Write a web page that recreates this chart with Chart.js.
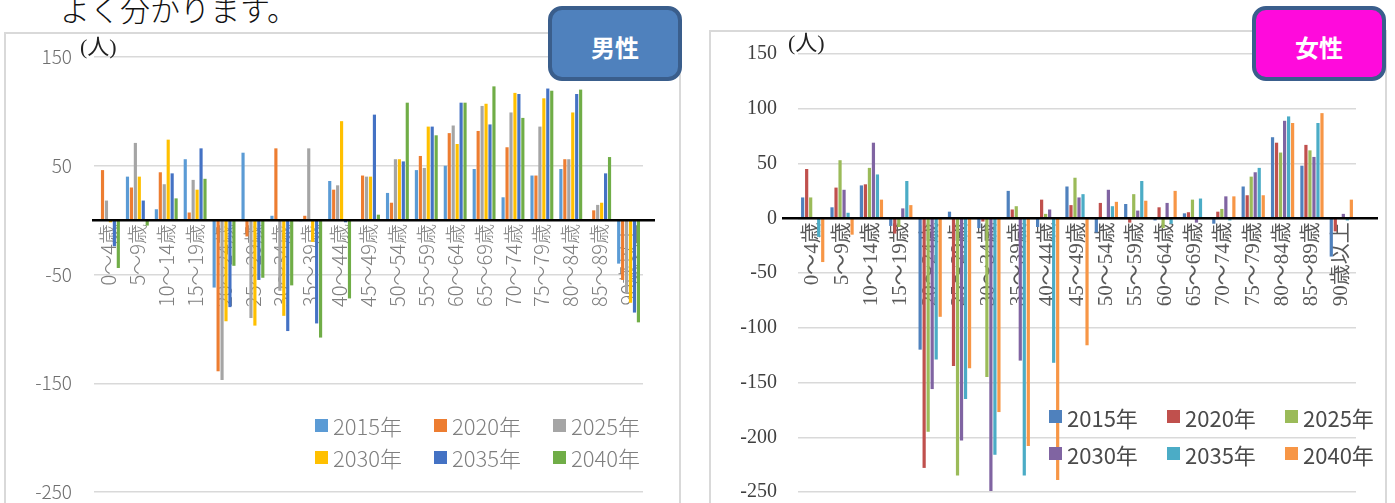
<!DOCTYPE html>
<html lang="ja">
<head>
<meta charset="utf-8">
<script src="https://cdn.jsdelivr.net/npm/chart.js@4.4.1/dist/chart.umd.min.js"></script>
<style>
  html, body { margin: 0; padding: 0; background: #fff; }
  body { width: 1395px; height: 503px; position: relative; overflow: hidden; font-family: 'Noto Sans CJK JP', sans-serif; }
  .lead { position: absolute; left: 60px; top: -7px; font-size: 30px; line-height: 30px; font-weight: 300; color: #111; white-space: nowrap; }
  .frame { position: absolute; border: 2px solid #d9d9d9; box-sizing: border-box; }
  .plot { position: absolute; }
  .unit { position: absolute; font-family: 'Liberation Serif', 'Noto Sans CJK JP', serif; font-size: 22px; line-height: 22px; color: #222; }
  .tag { position: absolute; width: 134px; height: 75px; box-sizing: border-box; border: 4px solid #3a5e8c; border-radius: 14px;
         color: #fff; font-weight: bold; font-size: 24px; display: flex; align-items: center; justify-content: center; padding-top: 6px; }
  .legend { position: absolute; display: grid; grid-template-columns: repeat(3, 118px); }
  .legend .item { display: flex; align-items: center; white-space: nowrap; }
  .legend i { display: inline-block; width: 13px; height: 13px; margin-right: 5px; }
  #legendMale { left: 315px; top: 409px; grid-auto-rows: 32px; font-size: 22px; font-weight: 300; color: #7f7f7f; grid-template-columns: repeat(3, 119px); }
  #legendFemale { left: 1049px; top: 398px; grid-auto-rows: 37px; font-size: 22px; color: #4a4a4a; }
</style>
</head>
<body>
<div class="lead">よく分かります。</div>

<div class="frame" style="left:4px; top:32px; width:677px; height:490px;"></div>
<div class="frame" style="left:709px; top:30px; width:678px; height:490px;"></div>

<canvas id="maleChart" class="plot" style="left:5px; top:33px;" width="675" height="470"></canvas>
<canvas id="femaleChart" class="plot" style="left:708px; top:30px;" width="680" height="473"></canvas>

<div class="unit" style="left:80px; top:36px;">(人)</div>
<div class="unit" style="left:788px; top:32px;">(人)</div>

<div id="legendMale" class="legend"></div>
<div id="legendFemale" class="legend"></div>

<div class="tag" style="left:548px; top:6px; background:#4f81bd;">男性</div>
<div class="tag" style="left:1252px; top:6px; background:#ff0adc;">女性</div>

<script>
const ageGroups = ['0～4歳', '5～9歳', '10～14歳', '15～19歳', '20～24歳', '25～29歳', '30～34歳', '35～39歳', '40～44歳',
  '45～49歳', '50～54歳', '55～59歳', '60～64歳', '65～69歳', '70～74歳', '75～79歳', '80～84歳', '85～89歳', '90歳以上'];
const years = ['2015年', '2020年', '2025年', '2030年', '2035年', '2040年'];

// 男性 (change in persons)
const male2015 = [0, 40, 10, 56, -62, 62, 4, -1, 36, 1, 25, 46, 50, 47, 21, 41, 47, 0, -40];
const male2020 = [46, 30, 44, 7, -139, -15, 66, 4, 28, 41, 16, 59, 80, 82, 67, 41, 56, 9, -55];
const male2025 = [18, 71, 33, 37, -147, -90, -65, 66, 32, 40, 56, 48, 87, 105, 99, 86, 56, 14, -67];
const male2030 = [-2, 40, 74, 28, -93, -97, -88, -20, 91, 40, 56, 86, 70, 107, 117, 112, 99, 16, -76];
const male2035 = [-24, 18, 43, 66, -80, -55, -102, -95, -2, 97, 54, 86, 108, 88, 116, 121, 116, 43, -85];
const male2040 = [-44, -5, 20, 38, -42, -53, -60, -108, -72, 5, 108, 78, 108, 123, 94, 119, 120, 58, -94];

// 女性
const female2015 = [19, 10, 30, -7, -120, 6, -9, 25, -8, 29, -13, 13, -2, 4.5, -5, 29, 74, 48, -35];
const female2020 = [45, 28, 31, -14, -228, -135, -3, 8, 17, 12, 14, -4, 10, 5.5, 6, 21, 69, 67, -12];
const female2025 = [19, 53, 46, -8, -195, -235, -145, 11, 4, 37, 0, 22, -9, 17, 8.5, 38, 60, 62, 0];
const female2030 = [0, 26, 69, 9, -156, -203, -249, -130, 8, 19, 26, 7, 14, -4, 20, 42, 89, 56, 4];
const female2035 = [-17, 5, 40, 34, -129, -165, -216, -235, -132, 22, 11, 34, -5, 18, -2, 46, 93, 87, -2];
const female2040 = [-40, -15, 17, 12, -90, -137, -177, -208, -239, -116, 15, 16, 25, 0, 20, 21, 87, 96, 17];

const maleTicks = [150, 50, -50, -150, -250];
const femaleTicks = [150, 100, 50, 0, -50, -100, -150, -200, -250];

const maleColors = ['#5b9bd5', '#ed7d31', '#a5a5a5', '#ffc000', '#4472c4', '#70ad47'];
const femaleColors = ['#4f81bd', '#c0504d', '#9bbb59', '#8064a2', '#4bacc6', '#f79646'];

// heavy black line at 0, a bit longer than the plot like the original
const zeroLine = {
  id: 'zeroLine',
  afterDatasetsDraw(chart, args, opts) {
    const { ctx, chartArea, scales } = chart;
    const y = scales.y.getPixelForValue(0);
    ctx.save();
    ctx.strokeStyle = '#000';
    ctx.lineWidth = 2.5;
    ctx.beginPath();
    ctx.moveTo(chartArea.left - opts.left, y);
    ctx.lineTo(chartArea.right + opts.right, y);
    ctx.stroke();
    ctx.restore();
  }
};

function makeChart(id, series, colors, ticks, o) {
  const ctx = document.getElementById(id).getContext('2d');
  return new Chart(ctx, {
    type: 'bar',
    data: {
      labels: ageGroups,
      datasets: series.map((values, i) => ({
        label: years[i],
        data: values,
        backgroundColor: colors[i],
        borderWidth: 0,
        categoryPercentage: 0.82,
        barPercentage: 0.8
      }))
    },
    options: {
      responsive: false,
      animation: false,
      layout: { padding: o.padding },
      plugins: {
        legend: { display: false },
        tooltip: { enabled: false },
        zeroLine: o.zero
      },
      scales: {
        x: {
          position: { y: 0 },
          grid: { display: false, drawTicks: false },
          border: { display: false },
          ticks: {
            autoSkip: false,
            minRotation: 90,
            maxRotation: 90,
            padding: 4,
            color: o.xColor,
            font: o.xFont
          }
        },
        y: {
          min: -250,
          max: 150,
          afterBuildTicks: s => { s.ticks = ticks.map(v => ({ value: v })); },
          afterFit: s => {
            s.width = o.axisWidth;
            // keep the plot height fixed by the layout padding only
            s.paddingTop = 0;
            s.paddingBottom = 0;
          },
          grid: { color: '#d9d9d9', lineWidth: 1.5, drawTicks: false },
          border: { display: false },
          ticks: { padding: o.yPad, color: o.yColor, font: o.yFont }
        }
      }
    },
    plugins: [zeroLine]
  });
}

makeChart('maleChart',
  [male2015, male2020, male2025, male2030, male2035, male2040], maleColors, maleTicks, {
    padding: { top: 24, right: 37, bottom: 11, left: 0 },
    axisWidth: 89,
    yPad: 22,
    zero: { left: 2, right: 12 },
    xColor: '#7f7f7f',
    xFont: { family: "'Noto Sans CJK JP', sans-serif", size: 20, weight: '300' },
    yColor: '#6f6f6f',
    yFont: { family: "'Noto Sans CJK JP', sans-serif", size: 19, weight: '300' }
  });

makeChart('femaleChart',
  [female2015, female2020, female2025, female2030, female2035, female2040], femaleColors, femaleTicks, {
    padding: { top: 24, right: 32, bottom: 11, left: 0 },
    axisWidth: 90,
    yPad: 21,
    zero: { left: 16, right: 22 },
    xColor: '#595959',
    xFont: { family: "'Liberation Serif', 'Noto Sans CJK JP', serif", size: 21 },
    yColor: '#404040',
    yFont: { family: "'Liberation Serif', 'Noto Sans CJK JP', serif", size: 20 }
  });

function buildLegend(id, colors) {
  const box = document.getElementById(id);
  years.forEach((name, i) => {
    const item = document.createElement('div');
    item.className = 'item';
    const sw = document.createElement('i');
    sw.style.background = colors[i];
    item.appendChild(sw);
    item.appendChild(document.createTextNode(name));
    box.appendChild(item);
  });
}
buildLegend('legendMale', maleColors);
buildLegend('legendFemale', femaleColors);
</script>
</body>
</html>
